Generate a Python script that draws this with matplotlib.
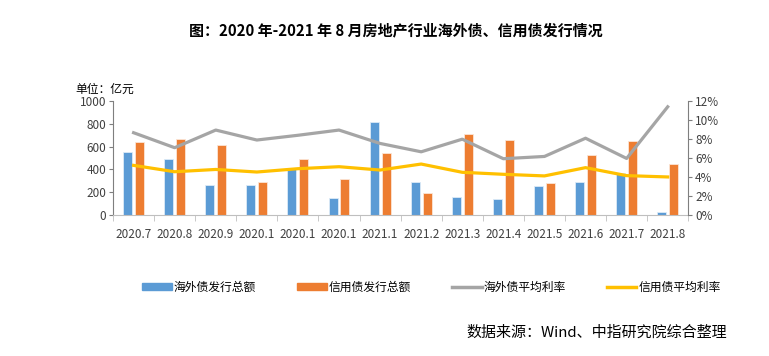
import numpy as np
import matplotlib
matplotlib.use('Agg')
from matplotlib import pyplot as plt
from matplotlib.ticker import FuncFormatter

plt.rcParams['font.family'] = ['Noto Sans CJK SC', 'DejaVu Sans']

# 月份标签 (原图里 10/11/12 月显示成 2020.1)
months = ['2020.7', '2020.8', '2020.9', '2020.1', '2020.1', '2020.1', '2021.1',
          '2021.2', '2021.3', '2021.4', '2021.5', '2021.6', '2021.7', '2021.8']
# 发行总额 (亿元)
overseas_amt = [556, 494, 260, 260, 400, 146, 816, 290, 154, 145, 259, 288, 369, 26]
credit_amt = [640, 664, 611, 287, 491, 319, 547, 189, 715, 660, 282, 526, 651, 445]
# 平均利率 (%)
overseas_rate = [8.67, 7.09, 8.95, 7.9, 8.4, 8.95, 7.54, 6.66, 7.99, 5.93, 6.17, 8.09, 5.96, 11.4]
credit_rate = [5.23, 4.56, 4.8, 4.53, 4.88, 5.09, 4.74, 5.37, 4.5, 4.29, 4.12, 4.99, 4.15, 4.01]

blue = '#5B9BD5'
orange = '#ED7D31'
grey = '#A5A5A5'
yellow = '#FFC000'
txt = '#404040'

fig = plt.figure(figsize=(7.69, 3.56), dpi=100)
ax = fig.add_axes([0.147, 0.396, 0.748, 0.32])
x = np.arange(len(months))

ax.bar(x - 0.145, overseas_amt, 0.22, color=blue, edgecolor='#DDEBF7', linewidth=0.6, zorder=2)
ax.bar(x + 0.145, credit_amt, 0.22, color=orange, edgecolor='#FBE5D6', linewidth=0.6, zorder=2)
ax.set_xlim(-0.5, len(months) - 0.5)
ax.set_ylim(0, 1000)
ax.set_yticks(range(0, 1001, 200))
ax.set_xticks(x)
ax.set_xticklabels(months)
ax.set_xticks(np.arange(-0.5, len(months), 1), minor=True)
ax.tick_params(axis='x', which='major', length=0, pad=9, labelsize=8.5, labelcolor=txt)
ax.tick_params(axis='x', which='minor', length=4, color='#BFBFBF')
ax.tick_params(axis='y', length=3, color='#7F7F7F', labelsize=8.5, labelcolor=txt, pad=2)
for s in ['top', 'right']:
    ax.spines[s].set_visible(False)
ax.spines['left'].set_color('#7F7F7F')
ax.spines['bottom'].set_color('#BFBFBF')

ax2 = ax.twinx()
ax2.plot(x, overseas_rate, color=grey, lw=2.3, zorder=3)
ax2.plot(x, credit_rate, color=yellow, lw=2.3, zorder=3)
ax2.set_ylim(0, 12)
ax2.set_yticks(range(0, 13, 2))
ax2.yaxis.set_major_formatter(FuncFormatter(lambda v, p: '%d%%' % v))
ax2.tick_params(axis='y', length=3, color='#7F7F7F', labelsize=8.5, labelcolor=txt, pad=2)
for s in ['top', 'left', 'bottom']:
    ax2.spines[s].set_visible(False)
ax2.spines['right'].set_color('#7F7F7F')

fig.text(0.515, 0.915, '图：2020 年-2021 年 8 月房地产行业海外债、信用债发行情况',
         ha='center', va='center', fontsize=10.8, fontweight='bold', color='black')
fig.text(0.098, 0.75, '单位：亿元', ha='left', va='center', fontsize=8.5, color='black')

# 图例
hs = [plt.Rectangle((0, 0), 1, 1, color=blue), plt.Rectangle((0, 0), 1, 1, color=orange),
      plt.Line2D([], [], color=grey, lw=2.5), plt.Line2D([], [], color=yellow, lw=2.5)]
labels = ['海外债发行总额', '信用债发行总额', '海外债平均利率', '信用债平均利率']
fig.legend(hs, labels, loc='center', bbox_to_anchor=(0.561, 0.193), ncol=4, frameon=False,
           fontsize=8.5, handlelength=2.5, handleheight=0.5, handletextpad=0.15,
           columnspacing=3.5, labelcolor='black')

fig.text(0.945, 0.067, '数据来源：Wind、中指研究院综合整理', ha='right', va='center',
         fontsize=10.8, color='black')

plt.savefig('out.png', dpi=100)
